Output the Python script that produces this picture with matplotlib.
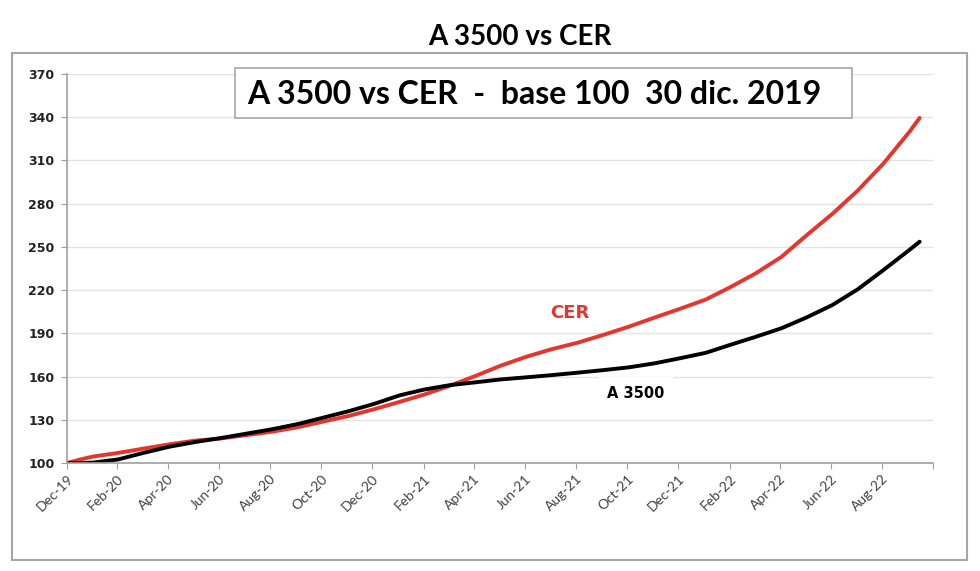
import pandas as pd
import matplotlib.pyplot as plt
from matplotlib.patches import Rectangle

# fechas (base 100 = 30 dic. 2019)
dates = ["2019-12-30", "2020-01-15", "2020-01-30", "2020-02-29", "2020-03-30",
         "2020-04-30", "2020-05-30", "2020-06-30", "2020-07-30", "2020-08-30",
         "2020-09-30", "2020-10-30", "2020-11-30", "2020-12-30", "2021-01-30",
         "2021-02-28", "2021-03-30", "2021-04-30", "2021-05-30", "2021-06-30",
         "2021-07-30", "2021-08-30", "2021-09-30", "2021-10-30", "2021-11-30",
         "2021-12-30", "2022-01-30", "2022-02-28", "2022-03-30", "2022-04-30",
         "2022-05-30", "2022-06-30", "2022-07-30", "2022-08-30", "2022-09-30",
         "2022-10-12"]
cer = [100, 102.5, 104.5, 107, 110, 113, 115.5, 117, 119.3, 121.7,
       124.8, 128.7, 132.7, 137.3, 142.5, 147.5, 153.5, 160.4, 167.5, 173.8,
       179, 183.5, 189, 194.6, 201, 207, 213.5, 222, 231.5, 243,
       258, 273, 289, 308, 330, 339.5]
a3500 = [100, 100, 100.3, 102.5, 107, 111.3, 114.5, 117.3, 120.3, 123.4,
         127, 131.4, 136, 141, 147, 151, 154, 156, 158, 159.5,
         161, 162.7, 164.5, 166.4, 169.2, 172.7, 176.5, 182, 187.5, 193.5,
         201, 209.7, 220.5, 234, 248, 253.6]

# ticks del eje x (cada 2 meses, como en Excel)
tick_dates = ["2019-12-30", "2020-02-28", "2020-04-28", "2020-06-28", "2020-08-28",
              "2020-10-28", "2020-12-28", "2021-02-28", "2021-04-28", "2021-06-28",
              "2021-08-28", "2021-10-28", "2021-12-28", "2022-02-28", "2022-04-28",
              "2022-06-28", "2022-08-28"]
x_end = "2022-10-28"
y_ticks = list(range(100, 371, 30))

df = pd.DataFrame({"fecha": pd.to_datetime(dates), "cer": cer, "a3500": a3500})
xticks = pd.to_datetime(tick_dates)

fig = plt.figure(figsize=(9.8, 5.71), dpi=100)
ax = fig.add_axes([0.0684, 0.1891, 0.8837, 0.6813])

# marco exterior del grafico
fig.patches.append(Rectangle((0.0122, 0.0193), 0.9745, 0.888, transform=fig.transFigure,
                             fill=False, edgecolor='#a6a6a6', linewidth=1.5))

ax.plot(df["fecha"], df["cer"], color='#e8342b', linewidth=2.8, solid_capstyle='round')
ax.plot(df["fecha"], df["a3500"], color='black', linewidth=2.8, solid_capstyle='round')

ax.set_xlim(pd.Timestamp(tick_dates[0]), pd.Timestamp(x_end))
ax.set_xticks(list(xticks) + [pd.Timestamp(x_end)])
ax.set_xticklabels([d.strftime('%b-%y') for d in xticks] + [''], rotation=45,
                   ha='right', rotation_mode='anchor', fontsize=10, color='#404040',
                   family=['Lato', 'DejaVu Sans'])
ax.tick_params(axis='x', length=4, color='#a0a0a0', pad=3)

ax.set_ylim(100, 370)
ax.set_yticks(y_ticks)
ax.set_yticklabels([str(v) for v in y_ticks], fontsize=9, fontweight='bold', color='#222222')
ax.tick_params(axis='y', length=4, color='#a0a0a0', pad=5)

ax.grid(True, axis='y', color='#e3e3e3', linewidth=1)
ax.set_axisbelow(True)
for s in ['top', 'right']:
    ax.spines[s].set_visible(False)
for s in ['left', 'bottom']:
    ax.spines[s].set_color('#a0a0a0')
    ax.spines[s].set_linewidth(1.2)

fig.text(0.5306, 0.935, 'A 3500 vs CER', ha='center', va='center', fontsize=20,
         fontweight='bold', family=['Lato', 'DejaVu Sans'])

# recuadro con el subtitulo
fig.patches.append(Rectangle((235 / 980, 1 - 118 / 571), 617 / 980, 50 / 571, transform=fig.transFigure,
                             facecolor='white', edgecolor='#a6a6a6', linewidth=1.2, zorder=4))
fig.text(534 / 980, 1 - 94 / 571, 'A 3500 vs CER  -  base 100  30 dic. 2019',
         ha='center', va='center', fontsize=23, fontweight='bold',
         family=['Lato', 'DejaVu Sans'], zorder=5)

ax.text(570 / 980, 1 - 313 / 571, 'CER', transform=fig.transFigure, ha='center', va='center',
        fontsize=13, fontweight='bold', color='#e8342b')
ax.text(636 / 980, 1 - 393 / 571, 'A 3500', transform=fig.transFigure, ha='center', va='center',
        fontsize=10.5, fontweight='bold', color='black',
        bbox=dict(facecolor='white', edgecolor='none', pad=6))

fig.savefig('out.png', dpi=100)
